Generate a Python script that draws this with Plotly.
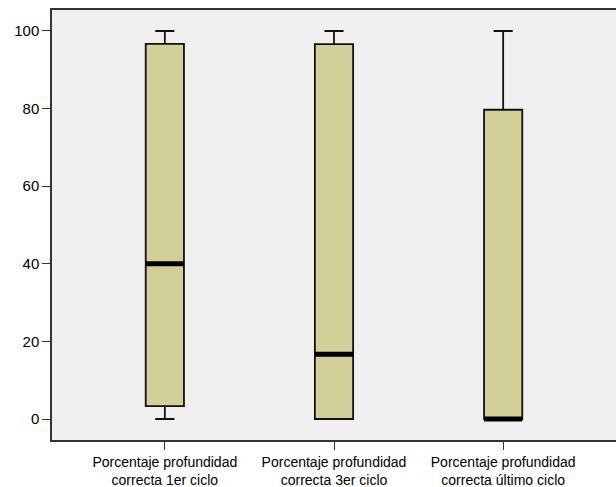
import plotly.graph_objects as go

categories = ["Porcentaje profundidad<br>correcta 1er ciclo",
              "Porcentaje profundidad<br>correcta 3er ciclo",
              "Porcentaje profundidad<br>correcta último ciclo"]
lower_whisker = [0, 0, 0]
q1 = [3.3, 0, 0]
median = [40, 16.7, 0]
q3 = [96.7, 96.6, 79.7]
upper_whisker = [100, 100, 100]
y_ticks = [0, 20, 40, 60, 80, 100]

pos = list(range(len(categories)))
box_w = 0.226

fig = go.Figure()
fig.add_trace(go.Box(
    x=pos, q1=q1, median=median, q3=q3,
    lowerfence=lower_whisker, upperfence=upper_whisker,
    width=box_w, whiskerwidth=0.5,
    fillcolor="#d3cf99", line=dict(color="#111111", width=1.8),
    boxpoints=False, showlegend=False, hoverinfo="skip",
))

mx, my = [], []
for i, m in zip(pos, median):
    mx += [i - box_w / 2, i + box_w / 2, None]
    my += [m, m, None]
fig.add_trace(go.Scatter(x=mx, y=my, mode="lines",
                         line=dict(color="black", width=5),
                         showlegend=False, hoverinfo="skip"))

fig.update_layout(
    width=616, height=487,
    margin=dict(l=52, r=0, t=10, b=47),
    paper_bgcolor="white", plot_bgcolor="#f0f0f0",
    font=dict(family="Liberation Sans, Arial, sans-serif", size=14, color="black"),
)
fig.update_xaxes(
    range=[-0.667, 2.667], tickvals=pos, ticktext=categories,
    showline=True, linecolor="#333333", linewidth=1.5, mirror=True,
    ticks="outside", ticklen=8, tickcolor="#333333", tickwidth=1.2,
    showgrid=False, zeroline=False, tickfont=dict(size=14),
)
fig.update_yaxes(
    range=[-5.41, 105.41], tickvals=y_ticks,
    showline=True, linecolor="#333333", linewidth=1.5,
    ticks="outside", ticklen=8, tickcolor="#333333", tickwidth=1.2,
    showgrid=False, zeroline=False, tickfont=dict(size=15),
)
fig.write_html("out.html", config={"displayModeBar": False},
               post_script="document.body.style.margin='0';document.body.style.overflow='hidden';")
